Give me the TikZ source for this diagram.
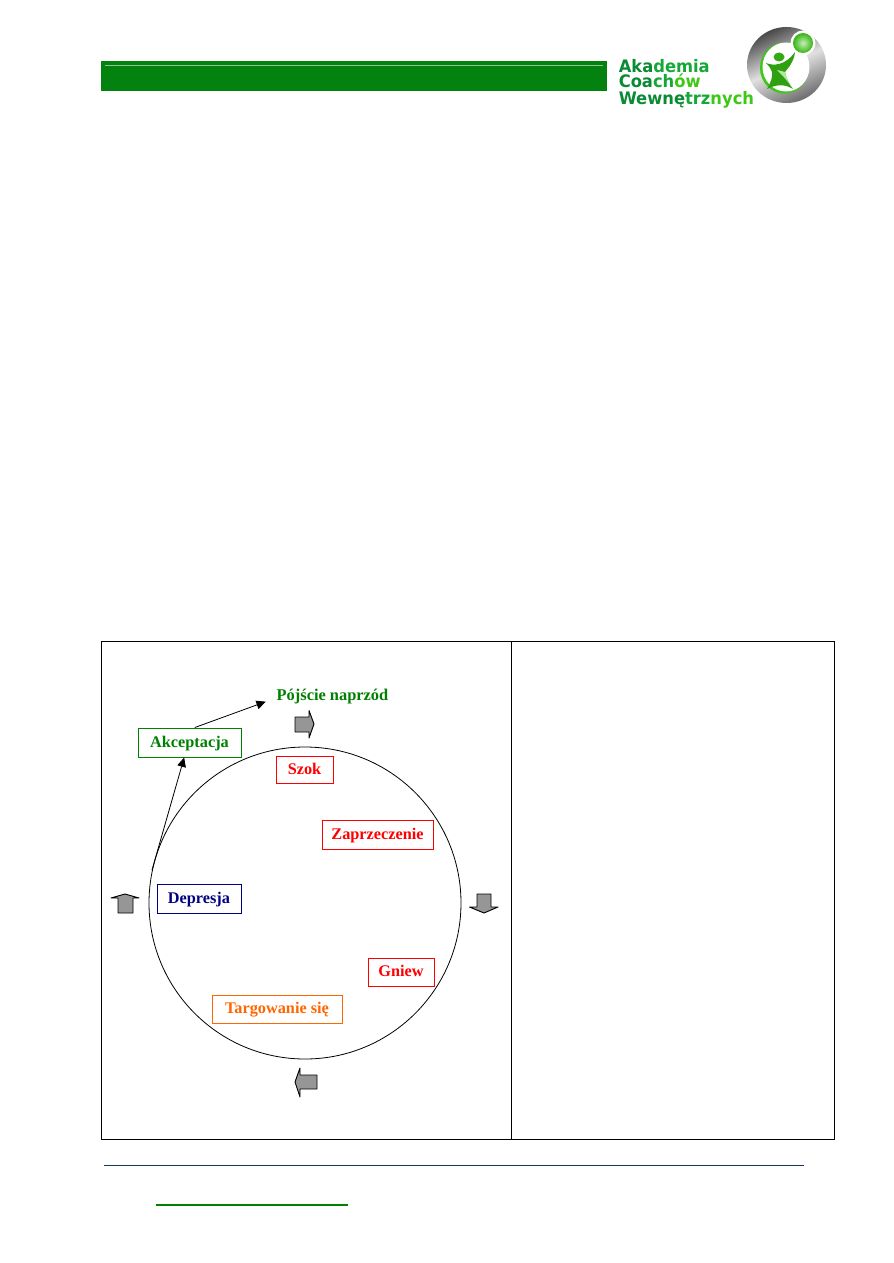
\documentclass[tikz,border=0pt]{standalone}
\usepackage{fontspec}
\setmainfont{Liberation Serif}
\newfontfamily\logofont[FakeStretch=0.95]{DejaVu Sans}
\usetikzlibrary{arrows.meta}
\definecolor{barGreen}{HTML}{038210}
\definecolor{barLight}{HTML}{8CC58F}
\definecolor{stageGreen}{HTML}{008000}
\definecolor{stageNavy}{HTML}{000080}
\definecolor{stageOrange}{HTML}{FF6600}
\definecolor{footBlue}{HTML}{17365D}
\definecolor{logoDark}{HTML}{0B8A34}
\definecolor{logoMid}{HTML}{14A838}
\definecolor{logoLime}{HTML}{3CC814}
\definecolor{blockGrey}{HTML}{969696}
\tikzset{
  stagebox/.style={draw=#1, text=#1, line width=0.75pt, rectangle, inner sep=0pt,
    text height=8.4pt, text depth=1.6pt,
    font=\bfseries\fontsize{12.2}{14}\selectfont},
  blockarrow/.style={draw=black, fill=blockGrey, line width=0.7pt, line join=round},
  flowline/.style={draw=black, line width=0.6pt, -{Triangle[length=7pt,width=6.5pt]}},
  logotext/.style={anchor=base west, inner sep=0pt, font=\logofont\bfseries\fontsize{12.9}{14}\selectfont},
}
\begin{document}
\begin{tikzpicture}[x=0.75pt,y=-0.75pt]
\useasboundingbox (0,0) rectangle (893,1263);
\fill[white] (0,0) rectangle (893,1263);

% header band
\fill[barGreen] (101,61) rectangle (607,91);
\draw[barLight, line width=0.75pt] (105,65.5) -- (603,65.5);

% logo wordmark
\node[logotext] (logoA) at (618.5,72.5) {\textcolor{logoDark}{Aka}\textcolor{logoMid}{demia}};
\node[logotext] (logoB) at (618.5,88) {\textcolor{logoDark}{Coa}\textcolor{logoMid}{ch}\textcolor{logoLime}{ów}};
\node[logotext] (logoC) at (618.5,104) {\textcolor{logoDark}{Wewnę}\textcolor{logoMid}{trz}\textcolor{logoLime}{nych}};

% logo ring
\shade[left color=black!72, right color=black!58, middle color=black!12, shading angle=25]
  (786.5,65) ellipse [x radius=39.5, y radius=38];
\fill[logoLime] (784.5,68) ellipse [x radius=24.5, y radius=25.5];
\fill[white] (786,67) ellipse [x radius=23.5, y radius=24.5];

% logo figure
\fill[white] (803,43) circle [radius=12.5];
\shade[inner color=white!70!logoLime, outer color=logoLime!90!black] (803,43) circle [radius=10];
\fill[logoLime!85!black] (779,57) ellipse [x radius=5.5, y radius=4.5];
\fill[logoLime!80!black]
  (766,63) .. controls (773,66) and (785,66) .. (795,52)
  .. controls (794,62) and (788,68) .. (785,72)
  .. controls (786,78) and (789,84) .. (793,89)
  .. controls (786,85) and (779,83) .. (767,89)
  .. controls (771,82) and (773,76) .. (772,72)
  .. controls (771,69) and (769,66) .. (766,63) -- cycle;
\fill[logoLime!40]
  (777,70) -- (785,72) .. controls (786,78) and (789,84) .. (793,89) .. controls (787,80) and (782,75) .. (777,70) -- cycle;

% outer table frame
\draw[black, line width=1pt] (101.5,641.5) rectangle (834.5,1139.5);
\draw[black, line width=0.75pt] (511.5,641.5) -- (511.5,1139.5);

% cycle of stages
\draw[black, line width=0.6pt] (305,903) circle [radius=156];

\node[stagebox=stageGreen, minimum width=77.25pt, minimum height=21.75pt] (akc) at (189.5,742.5) {Akceptacja};
\node[stagebox=red, minimum width=42.75pt, minimum height=20.25pt] (szok) at (304.5,769.5) {Szok};
\node[stagebox=red, minimum width=83.25pt, minimum height=21.75pt] (zap) at (377.5,834.5) {Zaprzeczenie};
\node[stagebox=stageNavy, minimum width=63pt, minimum height=21.75pt] (dep) at (199,898.5) {Depresja};
\node[stagebox=red, minimum width=49.5pt, minimum height=21pt] (gniew) at (401,972) {Gniew};
\node[stagebox=stageOrange, minimum width=97.5pt, minimum height=21pt] (targ) at (277,1009) {Targowanie się};

\node[text=stageGreen, inner sep=0pt, font=\bfseries\fontsize{12.3}{14}\selectfont] (poj) at (332.5,697) {Pójście naprzód};

% way out of the cycle
\coordinate (exitPoint) at (152,870);
\draw[flowline] (exitPoint) -- ([xshift=-4pt]akc.south);
\draw[flowline] ([xshift=4pt]akc.north) -- ([shift={(-8pt,-3.5pt)}]poj.west);

% direction arrows around the circle
\draw[blockarrow] (295,717) -- (309,717) -- (309,710.5) -- (314,724) -- (309,738) -- (309,732) -- (295,732) -- cycle;
\draw[blockarrow] (477,894) -- (491,894) -- (491,907) -- (498,907) -- (484,913) -- (469.5,907) -- (477,907) -- cycle;
\draw[blockarrow] (317,1075) -- (300,1075) -- (300,1068) -- (295,1082) -- (300,1097) -- (300,1089) -- (317,1089) -- cycle;
\draw[blockarrow] (118,913) -- (118,898) -- (111,898) -- (125,894) -- (139,898) -- (133,898) -- (133,913) -- cycle;

% footer rules
\draw[footBlue, line width=0.75pt] (104,1165) -- (804,1165);
\draw[stageGreen, line width=1.4pt] (156,1205) -- (348,1205);
\end{tikzpicture}
\end{document}
